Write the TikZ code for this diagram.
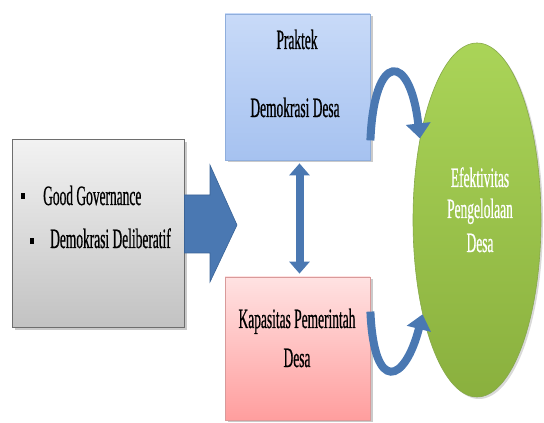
\documentclass[tikz,border=0pt]{standalone}
\usepackage{fontspec}
\setmainfont{Liberation Serif}[FakeStretch=0.48, FakeBold=0.6]
\usetikzlibrary{arrows.meta,shadows,calc,shapes.geometric}

\definecolor{arrowblue}{HTML}{4A78B2}
\definecolor{arrowedge}{HTML}{3A6396}
\definecolor{greyedge}{HTML}{6E6E6E}
\definecolor{blueedge}{HTML}{8FAEDC}
\definecolor{pinkedge}{HTML}{D99A9A}
\definecolor{greenedge}{HTML}{86A84A}

\tikzset{
  x=1pt, y=1pt,
  boxshadow/.style={drop shadow={shadow xshift=2.5pt, shadow yshift=-2.5pt, opacity=0.35, fill=black!60}},
  greybox/.style={draw=greyedge, line width=1pt, top color=black!5, bottom color=black!24, boxshadow},
  bluebox/.style={draw=blueedge, line width=0.8pt, top color={rgb,255:red,200;green,218;blue,248}, bottom color={rgb,255:red,166;green,194;blue,240}, boxshadow},
  pinkbox/.style={draw=pinkedge, line width=0.8pt, top color={rgb,255:red,255;green,226;blue,226}, bottom color={rgb,255:red,255;green,158;blue,158}, boxshadow},
  goalshape/.style={draw=greenedge, line width=0.6pt, top color={rgb,255:red,170;green,212;blue,88}, bottom color={rgb,255:red,138;green,176;blue,62},
    drop shadow={shadow xshift=2pt, shadow yshift=-2pt, opacity=0.3}},
  label/.style={font=\fontsize{28}{32}\selectfont, inner sep=0pt, anchor=base},
  bullet/.style={fill=black, inner sep=0pt, minimum width=3.5pt, minimum height=6pt},
  curvearrow/.style={draw=arrowblue, line width=8pt, -{Triangle[width=24pt,length=15pt]}},
  bothways/.style={draw=arrowblue, line width=8pt, {Triangle[width=20pt,length=12pt]}-{Triangle[width=20pt,length=12pt]}, shorten <=3pt, shorten >=3pt},
}

\begin{document}
\begin{tikzpicture}
\useasboundingbox (0,0) rectangle (544,423);

% boxes
\node[greybox, minimum width=172pt, minimum height=188pt, inner sep=0pt] (src) at (98,189) {};
\node[bluebox, minimum width=145pt, minimum height=146pt, inner sep=0pt] (prak) at (297.5,336) {};
\node[pinkbox, minimum width=145pt, minimum height=143pt, inner sep=0pt] (kap) at (297.5,74.5) {};
\node[goalshape, ellipse, minimum width=128pt, minimum height=354pt, inner sep=0pt] (efek) at (477,203) {};

% block arrow from the left box
\fill[arrowblue, draw=arrowedge, line width=0.6pt]
  (src.east |- 0,228) -- (210,228) -- (210,258) -- (237,198) -- (210,141) -- (210,170) -- (src.east |- 0,170) -- cycle;

% texts in the left box
\node[bullet] (b1) at (23,227) {};
\node[bullet] (b2) at (32,182) {};
\node[label, anchor=base west] (gg) at (43,218) {Good Governance};
\node[label, anchor=base west] (dd) at (50,175) {Demokrasi Deliberatif};

% texts in the two middle boxes
\node[label] (t1) at (297,374) {Praktek};
\node[label] (t2) at (295,306) {Demokrasi Desa};
\node[label] (t3) at (297,95) {Kapasitas Pemerintah};
\node[label] (t4) at (297,56) {Desa};

% texts in the ellipse
\node[label, text=white] (e1) at (480,236) {Efektivitas};
\node[label, text=white] (e2) at (480,205) {Pengelolaan};
\node[label, text=white] (e3) at (480,171) {Desa};

% connectors
\draw[bothways] ([xshift=2pt]prak.south) -- ([xshift=2pt]kap.north);
\draw[curvearrow] ([yshift=20pt]prak.south east) .. controls (374,372) and (410,372) .. (efek.125);
\draw[curvearrow] ([yshift=-35pt]kap.north east) .. controls (374,28) and (405,40) .. (efek.240);
\end{tikzpicture}
\end{document}
